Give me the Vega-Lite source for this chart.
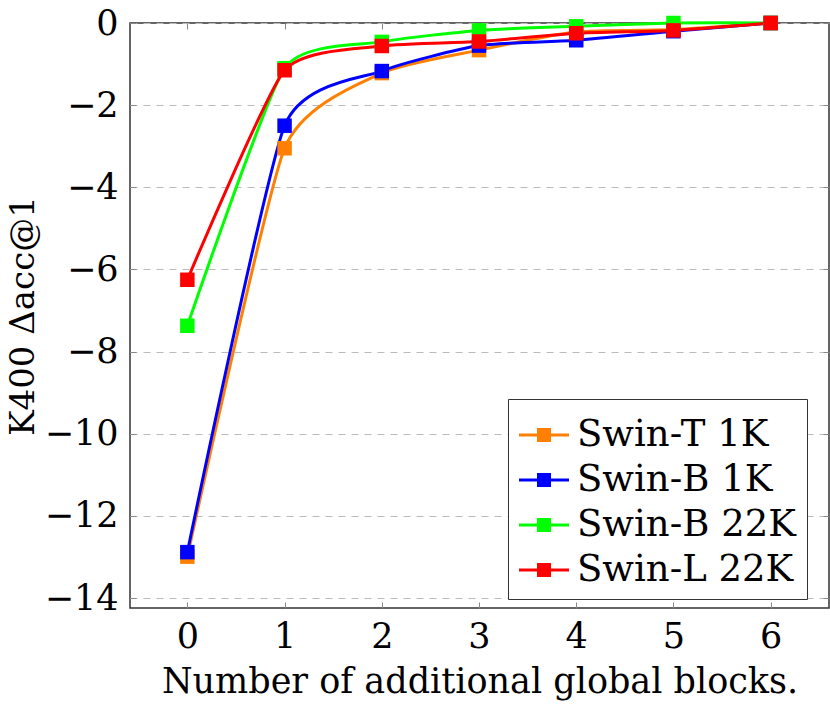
{
  "$schema": "https://vega.github.io/schema/vega-lite/v6.json",
  "width": 699,
  "height": 585,
  "autosize": {"type": "none"},
  "padding": {"left": 130, "top": 23, "right": 1, "bottom": 106},
  "background": "white",
  "config": {
    "font": "DejaVu Serif",
    "view": {"stroke": "#333", "strokeWidth": 1.5},
    "axis": {"labelFont": "DejaVu Serif", "titleFont": "DejaVu Serif", "labelFontSize": 35, "titleFontSize": 35, "labelColor": "black", "titleColor": "black", "titleFontWeight": "normal", "domain": false}
  },
  "data": {
    "values": [
      {"model": "Swin-T 1K", "blocks": 0, "acc": -12.99},
      {"model": "Swin-T 1K", "blocks": 1, "acc": -3.05},
      {"model": "Swin-T 1K", "blocks": 2, "acc": -1.22},
      {"model": "Swin-T 1K", "blocks": 3, "acc": -0.66},
      {"model": "Swin-T 1K", "blocks": 4, "acc": -0.22},
      {"model": "Swin-T 1K", "blocks": 5, "acc": -0.16},
      {"model": "Swin-T 1K", "blocks": 6, "acc": 0},
      {"model": "Swin-B 1K", "blocks": 0, "acc": -12.88},
      {"model": "Swin-B 1K", "blocks": 1, "acc": -2.5},
      {"model": "Swin-B 1K", "blocks": 2, "acc": -1.17},
      {"model": "Swin-B 1K", "blocks": 3, "acc": -0.55},
      {"model": "Swin-B 1K", "blocks": 4, "acc": -0.42},
      {"model": "Swin-B 1K", "blocks": 5, "acc": -0.2},
      {"model": "Swin-B 1K", "blocks": 6, "acc": 0},
      {"model": "Swin-B 22K", "blocks": 0, "acc": -7.37},
      {"model": "Swin-B 22K", "blocks": 1, "acc": -1.1},
      {"model": "Swin-B 22K", "blocks": 2, "acc": -0.46},
      {"model": "Swin-B 22K", "blocks": 3, "acc": -0.18},
      {"model": "Swin-B 22K", "blocks": 4, "acc": -0.08},
      {"model": "Swin-B 22K", "blocks": 5, "acc": 0},
      {"model": "Swin-B 22K", "blocks": 6, "acc": 0},
      {"model": "Swin-L 22K", "blocks": 0, "acc": -6.25},
      {"model": "Swin-L 22K", "blocks": 1, "acc": -1.15},
      {"model": "Swin-L 22K", "blocks": 2, "acc": -0.56},
      {"model": "Swin-L 22K", "blocks": 3, "acc": -0.45},
      {"model": "Swin-L 22K", "blocks": 4, "acc": -0.25},
      {"model": "Swin-L 22K", "blocks": 5, "acc": -0.18},
      {"model": "Swin-L 22K", "blocks": 6, "acc": 0}
    ]
  },
  "resolve": {"axis": {"x": "independent", "y": "independent"}},
  "layer": [
    {
      "mark": {"type": "line", "interpolate": "cardinal", "tension": 0.45, "strokeWidth": 3, "clip": false},
      "encoding": {
        "x": {"field": "blocks", "type": "quantitative", "scale": {"domain": [-0.59, 6.6], "nice": false, "zero": false},
          "axis": {"orient": "bottom", "values": [0,1,2,3,4,5,6], "title": "Number of additional global blocks.", "grid": false, "tickSize": -6, "tickColor": "#888", "labelPadding": 17, "titlePadding": 10}},
        "y": {"field": "acc", "type": "quantitative", "scale": {"domain": [-14.24, 0], "nice": false, "zero": false},
          "axis": {"orient": "left", "values": [-14,-12,-10,-8,-6,-4,-2,0], "title": "K400 Δacc@1", "titleFontSize": 34, "grid": true, "gridColor": "#bbb", "gridDash": [7,6], "gridWidth": 1, "tickSize": -6, "tickColor": "#888", "labelPadding": 18, "titlePadding": 4}},
        "color": {"field": "model", "type": "nominal", "sort": ["Swin-T 1K", "Swin-B 1K", "Swin-B 22K", "Swin-L 22K"],
          "scale": {"domain": ["Swin-T 1K", "Swin-B 1K", "Swin-B 22K", "Swin-L 22K"], "range": ["#FF8000", "#0000FF", "#00FF00", "#FF0000"]},
          "legend": {"orient": "none", "legendX": 378, "legendY": 376, "title": null, "labelFont": "DejaVu Serif", "labelFontSize": 37, "labelLimit": 400, "labelColor": "black", "strokeColor": "#333", "fillColor": "white", "padding": 11, "rowPadding": 2, "labelOffset": 8,
            "symbolType": "M-1,-0.06H-0.28V-0.28H0.28V-0.06H1V0.06H0.28V0.28H-0.28V0.06H-1Z", "symbolSize": 2500, "symbolStrokeWidth": 0, "symbolOpacity": 1}},
        "order": {"field": "blocks", "type": "quantitative"},
        "detail": {"field": "model"}
      }
    },
    {
      "mark": {"type": "square", "size": 210, "opacity": 1, "filled": true, "clip": false},
      "encoding": {
        "x": {"field": "blocks", "type": "quantitative", "axis": {"orient": "top", "values": [0,1,2,3,4,5,6], "labels": false, "title": null, "grid": false, "tickSize": -6, "tickColor": "#888"}},
        "y": {"field": "acc", "type": "quantitative", "axis": {"orient": "right", "values": [-14,-12,-10,-8,-6,-4,-2,0], "labels": false, "title": null, "grid": false, "tickSize": -6, "tickColor": "#888"}},
        "color": {"field": "model", "type": "nominal", "legend": null}
      }
    }
  ]
}
